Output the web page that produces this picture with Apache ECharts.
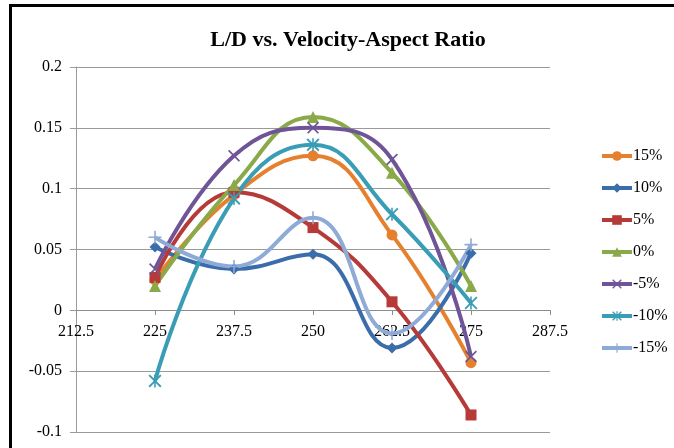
<!DOCTYPE html>
<html>
<head>
<meta charset="utf-8">
<script src="https://cdn.jsdelivr.net/npm/echarts@6/dist/echarts.min.js"></script>
<style>
  html, body { margin: 0; padding: 0; background: #fff; overflow: hidden; }
  .frame {
    position: absolute; left: 9px; top: 4px; width: 720px; height: 520px;
    border: 3px solid #000; box-sizing: border-box;
  }
  #chart { position: absolute; left: 0; top: 0; width: 674px; height: 448px; }
</style>
</head>
<body>
<div class="frame"></div>
<div id="chart"></div>
<script>
// velocity ratios on the x axis
const velocity = [225, 237.5, 250, 262.5, 275]

// L/D values for each aspect-ratio change
const p15 = [0.025, 0.095, 0.127, 0.062, -0.043]
const p10 = [0.052, 0.034, 0.046, -0.031, 0.047]
const p5 = [0.027, 0.097, 0.068, 0.007, -0.086]
const p0 = [0.020, 0.103, 0.159, 0.113, 0.020]
const m5 = [0.034, 0.127, 0.150, 0.124, -0.038]
const m10 = [-0.058, 0.092, 0.136, 0.079, 0.006]
const m15 = [0.060, 0.036, 0.076, -0.019, 0.054]

const seriesNames = ['15%', '10%', '5%', '0%', '-5%', '-10%', '-15%']
const seriesData = [p15, p10, p5, p0, m5, m10, m15]
const colors = ['#e5812e', '#3b6dab', '#b53a38', '#8aa948', '#6f5598', '#3a9db6', '#8eaad6']

// marker shapes (X, asterisk, plus drawn as thin filled paths)
const xPath = 'path://M0,1 L1,0 L5,4 L9,0 L10,1 L6,5 L10,9 L9,10 L5,6 L1,10 L0,9 L4,5 Z'
const starPath = xPath.replace(' Z', ' Z M4.4,0 L5.6,0 L5.6,10 L4.4,10 Z')
const plusPath = 'path://M4.4,0 L5.6,0 L5.6,4.4 L10,4.4 L10,5.6 L5.6,5.6 L5.6,10 L4.4,10 L4.4,5.6 L0,5.6 L0,4.4 L4.4,4.4 Z'
const symbols = ['circle', 'diamond', 'rect', 'triangle', xPath, starPath, plusPath]
const symbolSizes = [11, 11, 11, 12, 12, 13, 13]

const serif = '"Liberation Serif", "DejaVu Serif", serif'

const mChart = echarts.init(document.getElementById('chart'))

const options = {
  animation: false,
  color: colors,
  title: {
    text: 'L/D vs. Velocity-Aspect Ratio',
    left: 343,
    textAlign: 'center',
    top: 24,
    textStyle: { fontFamily: serif, fontSize: 22, fontWeight: 'bold', color: '#000' }
  },
  legend: {
    orient: 'vertical',
    left: 595,
    top: 143,
    itemWidth: 30,
    itemHeight: 12,
    itemGap: 16,
    data: seriesNames,
    lineStyle: { width: 4 },
    textStyle: { fontFamily: serif, fontSize: 16, color: '#000', padding: [0, 0, 0, -4] }
  },
  grid: {
    left: 76,
    right: 124,
    top: 67,
    bottom: 16,
    outerBoundsMode: 'none'
  },
  xAxis: {
    type: 'value',
    min: 212.5,
    max: 287.5,
    interval: 12.5,
    // x axis sits on the zero line of the y axis
    offset: -122,
    axisLine: { onZero: false, lineStyle: { color: '#8c8c8c', width: 1 } },
    axisTick: { show: true, length: 5, lineStyle: { color: '#8c8c8c' } },
    axisLabel: { fontFamily: serif, fontSize: 16, color: '#000', margin: 14 },
    splitLine: { show: false }
  },
  yAxis: {
    type: 'value',
    min: -0.1,
    max: 0.2,
    interval: 0.05,
    axisLine: { show: true, lineStyle: { color: '#9a9a9a', width: 1 } },
    axisTick: { show: true, length: 6, lineStyle: { color: '#9a9a9a' } },
    axisLabel: { fontFamily: serif, fontSize: 16, color: '#000', margin: 14 },
    splitLine: { show: true, lineStyle: { color: '#9a9a9a', width: 1 } }
  },
  series: seriesNames.map((name, i) => ({
    name: name,
    type: 'line',
    smooth: 0.45,
    data: velocity.map((v, j) => [v, seriesData[i][j]]),
    symbol: symbols[i],
    symbolSize: symbolSizes[i],
    showAllSymbol: true,
    lineStyle: { width: 4, color: colors[i] },
    itemStyle: { color: colors[i] }
  }))
}

mChart.setOption(options)
</script>
</body>
</html>
